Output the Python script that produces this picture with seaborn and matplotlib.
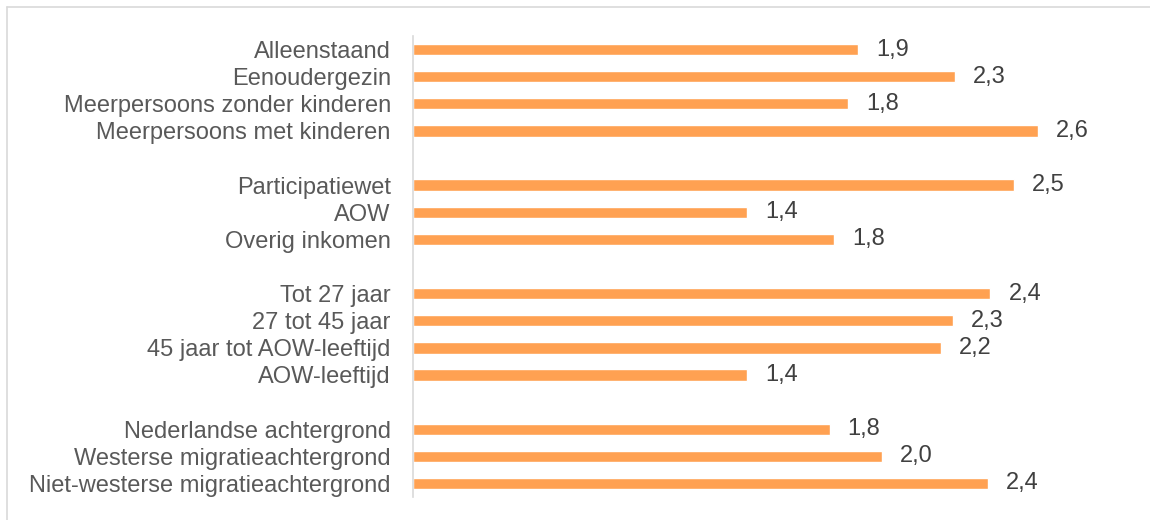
import matplotlib
matplotlib.use("Agg")
import matplotlib.pyplot as plt
import pandas as pd
import seaborn as sns
from matplotlib.lines import Line2D

# data per group
huishouden = ["Alleenstaand", "Eenoudergezin", "Meerpersoons zonder kinderen",
              "Meerpersoons met kinderen"]
huishouden_val = [1.88, 2.29, 1.84, 2.64]

inkomen = ["Participatiewet", "AOW", "Overig inkomen"]
inkomen_val = [2.54, 1.41, 1.78]

leeftijd = ["Tot 27 jaar", "27 tot 45 jaar", "45 jaar tot AOW-leeftijd", "AOW-leeftijd"]
leeftijd_val = [2.44, 2.28, 2.23, 1.41]

herkomst = ["Nederlandse achtergrond", "Westerse migratieachtergrond",
            "Niet-westerse migratieachtergrond"]
herkomst_val = [1.76, 1.98, 2.43]

groups = [(huishouden, huishouden_val), (inkomen, inkomen_val),
          (leeftijd, leeftijd_val), (herkomst, herkomst_val)]

# build table + order with blank spacer rows between groups
cats, vals, order = [], [], []
for i, (c, v) in enumerate(groups):
    if i > 0:
        order.append(" " * i)
    cats += c
    vals += v
    order += c
df = pd.DataFrame({"cat": cats, "val": vals})

sns.set_style("white")
plt.rcParams['font.family'] = ["Liberation Sans", "DejaVu Sans"]

fig = plt.figure(figsize=(11.5, 5.2), dpi=100)
ax = fig.add_axes([413 / 1150, 23 / 520, 710 / 1150, 461 / 520])

sns.barplot(data=df, x="val", y="cat", order=order, orient="h",
            color="#FFA152", saturation=1, width=0.42, ax=ax)

for cont in ax.containers:
    labels = [f"{w:.1f}".replace(".", ",") for w in cont.datavalues]
    ax.bar_label(cont, labels=labels, padding=13, fontsize=17, color="#404040")

ax.set_xlim(0, 3)
ax.set_xlabel("")
ax.set_ylabel("")
ax.xaxis.set_visible(False)
ax.tick_params(axis="y", length=0, pad=16, labelsize=17, labelcolor="#595959")
for s in ["top", "right", "bottom"]:
    ax.spines[s].set_visible(False)
ax.spines["left"].set_color("#D9D9D9")
ax.spines["left"].set_linewidth(1.2)

# light frame lines (top and left edges of the chart area)
fig.add_artist(Line2D([7 / 1150, 1], [1 - 7 / 520, 1 - 7 / 520],
                      color="#D9D9D9", lw=1.2, transform=fig.transFigure))
fig.add_artist(Line2D([7 / 1150, 7 / 1150], [0, 1 - 7 / 520],
                      color="#D9D9D9", lw=1.2, transform=fig.transFigure))

plt.savefig("out.png", dpi=100)
